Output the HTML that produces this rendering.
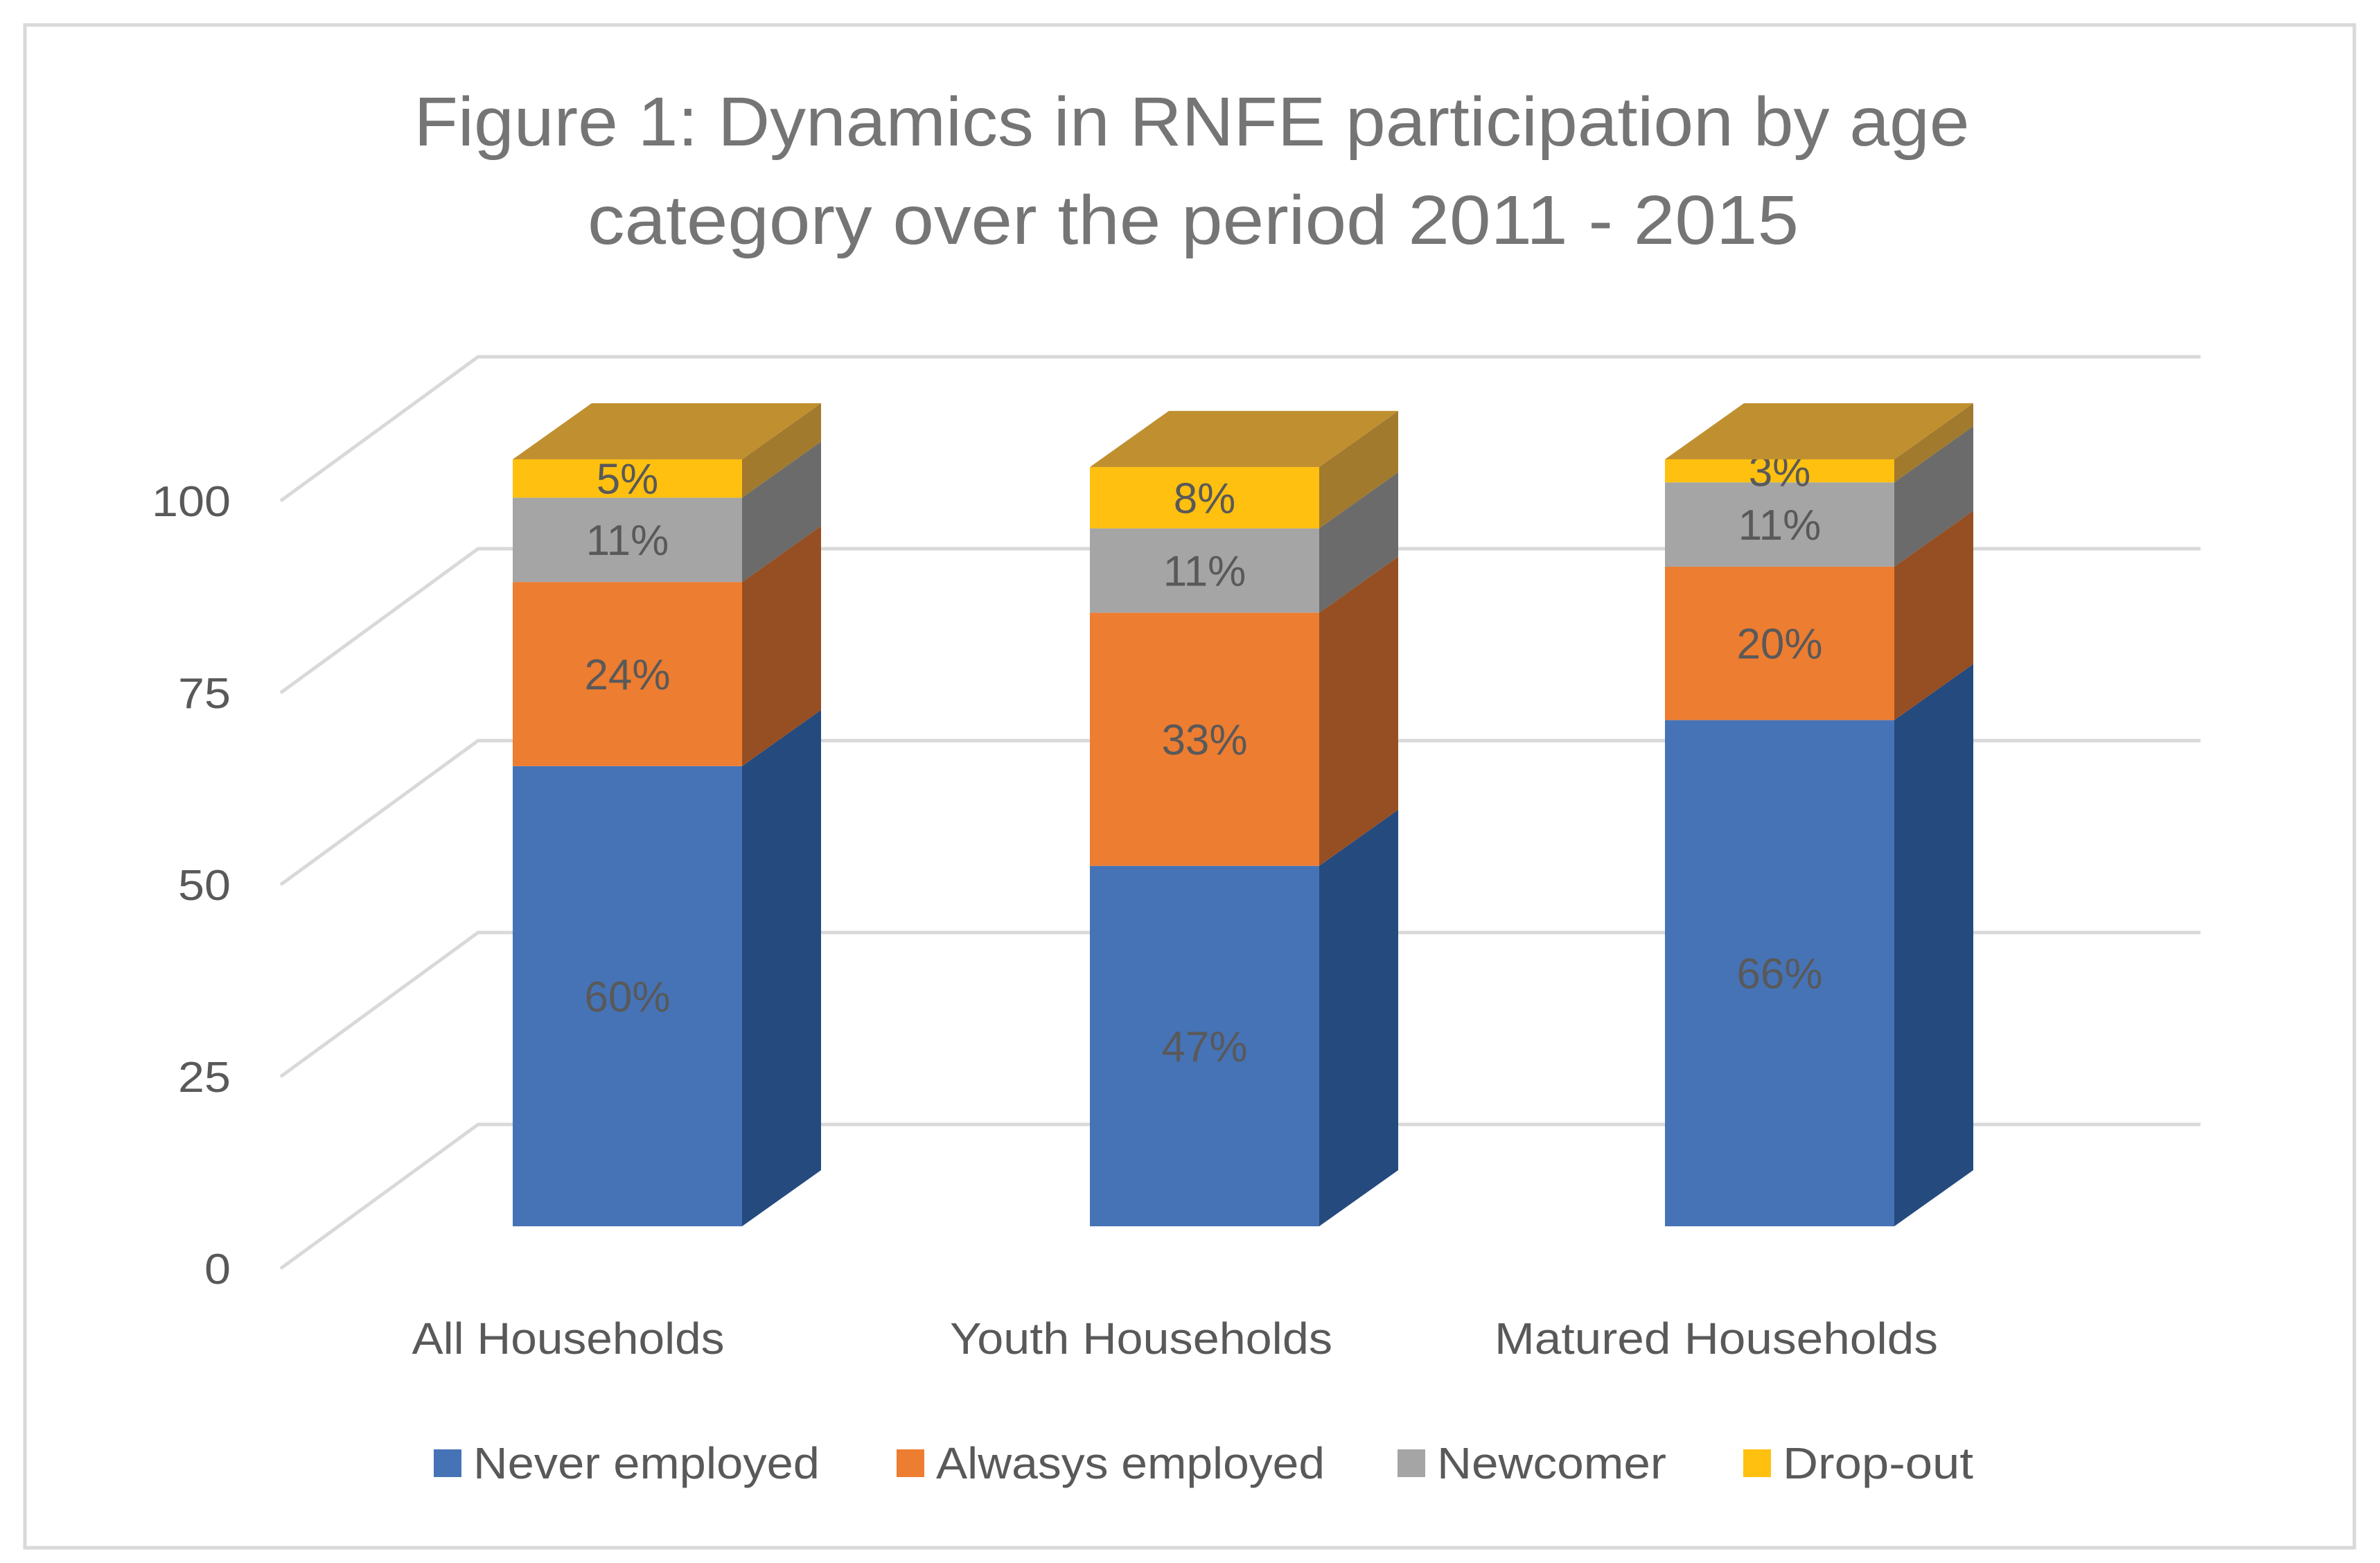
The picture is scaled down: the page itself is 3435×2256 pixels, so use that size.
<!DOCTYPE html>
<html><head><meta charset="utf-8"><style>
html,body{margin:0;padding:0;background:#fff}
svg{display:block}
text{font-family:"Liberation Sans",sans-serif}
</style></head><body>
<svg id="chart" width="3435" height="2256" viewBox="0 0 3435 2256" xmlns="http://www.w3.org/2000/svg">
<rect x="36" y="36" width="3362" height="2198" fill="#fff" stroke="#d9d9d9" stroke-width="5"/>
<g fill="#757575" font-size="100" text-anchor="middle">
<text x="1720" y="210" textLength="2245" lengthAdjust="spacingAndGlyphs">Figure 1: Dynamics in RNFE participation by age</text>
<text x="1722" y="352" textLength="1748" lengthAdjust="spacingAndGlyphs">category over the period 2011 - 2015</text>
</g>
<g id="grid"></g>
<g id="yaxis"></g>
<g id="bars"></g>
<g id="xaxis"></g>
<g id="legend"></g>
</svg>
<script>
const categories = ["All Households", "Youth Households", "Matured Households"];
const neverEmployed = [60, 47, 66];
const alwaysEmployed = [24, 33, 20];
const newcomer = [11, 11, 11];
const dropOut = [5, 8, 3];
const yTicks = [0, 25, 50, 75, 100];
const seriesNames = ["Never employed", "Alwasys employed", "Newcomer", "Drop-out"];

const NS = "http://www.w3.org/2000/svg";
const series = [neverEmployed, alwaysEmployed, newcomer, dropOut];
const front = ["#4673b6", "#ed7d31", "#a5a5a5", "#ffc010"];
const side = ["#254a7e", "#964f22", "#6a6b6a", "#a17a2e"];
const topCol = ["#3e66a3", "#c0702c", "#949494", "#c09030"];
const DX = 114, DY = 81;
function gridY(v) { return 1623 - v * 277 / 25; }
function barY(v) { return 1770 - v * 11.07; }
const barX = [740, 1573, 2403], barW = 331;
const catLabelCx = [820, 1647, 2477], catLabelW = [451, 552, 640];
const legX = [626, 1294, 2017, 2516], legW = [500, 561, 331, 275];
function el(tag, attrs, parent) { const e = document.createElementNS(NS, tag); for (const k in attrs) e.setAttribute(k, attrs[k]); parent.appendChild(e); return e; }

const grid = document.getElementById('grid');
yTicks.forEach(t => {
  const y = gridY(t);
  const p = el('polyline', {points: `405,${y + 208} 690,${y} 3176,${y}`, fill: 'none', stroke: '#d9d9d9', 'stroke-width': 5}, grid);
  
  
});
const yaxis = document.getElementById('yaxis');
yTicks.forEach(t => {
  const s = String(t);
  const tx = el('text', {x: 333, y: gridY(t) + 208 + 22, 'text-anchor': 'end', 'font-size': 62, fill: '#595959', textLength: 38 * s.length, lengthAdjust: 'spacingAndGlyphs'}, yaxis);
  tx.textContent = s;
  
  
});

const bars = document.getElementById('bars');
categories.forEach((c, i) => {
  const g = el('g', {}, bars);
  
  
  let cum = 0;
  const x0 = barX[i], x1 = x0 + barW;
  series.forEach((s, k) => {
    const v = s[i];
    const yb = barY(cum), yt = barY(cum + v);
    const r = el('rect', {x: x0, y: yt, width: barW, height: yb - yt, fill: front[k]}, g);
    
    
    const sd = el('polygon', {points: `${x1},${yb} ${x1 + DX},${yb - DY} ${x1 + DX},${yt - DY} ${x1},${yt}`, fill: side[k]}, g);
    
    
    const lb = el('text', {x: x0 + barW / 2, y: (yb + yt) / 2 + 22, 'text-anchor': 'middle', 'font-size': 62, fill: '#595959'}, g);
    lb.textContent = v + '%';
    
    
    cum += v;
  });
  const yt = barY(cum);
  const tp = el('polygon', {points: `${x0},${yt} ${x1},${yt} ${x1 + DX},${yt - DY} ${x0 + DX},${yt - DY}`, fill: topCol[3]}, g);
  
  
});

const xaxis = document.getElementById('xaxis');
categories.forEach((c, i) => {
  const t = el('text', {x: catLabelCx[i], y: 1954, 'text-anchor': 'middle', 'font-size': 64, fill: '#595959', textLength: catLabelW[i], lengthAdjust: 'spacingAndGlyphs'}, xaxis);
  t.textContent = c;
  
  
});

const legend = document.getElementById('legend');
seriesNames.forEach((n, k) => {
  const g = el('g', {}, legend);
  
  
  el('rect', {x: legX[k], y: 2092, width: 40, height: 40, fill: front[k]}, g);
  const t = el('text', {x: legX[k] + 57, y: 2134, 'font-size': 64, fill: '#595959', textLength: legW[k], lengthAdjust: 'spacingAndGlyphs'}, g);
  t.textContent = n;
});
</script>
</body></html>
